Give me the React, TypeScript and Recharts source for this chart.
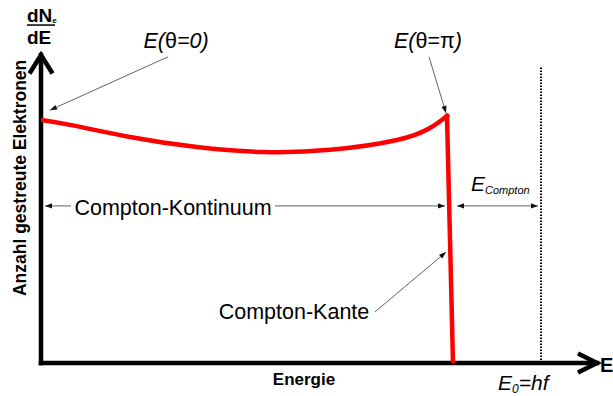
import { LineChart, Line, XAxis, YAxis, ReferenceLine, ReferenceDot } from 'recharts'

// Compton spectrum, energy in units of E0 = hf, counts in arbitrary units
const continuum = [
  { x: 0, y: 0.789 },
  { x: 0.058, y: 0.773 },
  { x: 0.178, y: 0.734 },
  { x: 0.312, y: 0.701 },
  { x: 0.444, y: 0.685 },
  { x: 0.578, y: 0.692 },
  { x: 0.712, y: 0.724 },
  { x: 0.778, y: 0.763 },
  { x: 0.812, y: 0.802 },
]
const edge = [
  { x: 0.812, y: 0.802 },
  { x: 0.824, y: 0 },
]
const E0 = 1.0
const X_MAX = 1.112
const Y_MAX = 1.0

const FONT = '"Liberation Sans", Arial, Helvetica, sans-serif'
const RED = '#ff0000'
const THIN = '#3a3a3a'

function head(x: number, y: number, ang: number) {
  const l = 7, w = 2.6
  const bx = x - l * Math.cos(ang), by = y - l * Math.sin(ang)
  return `${x},${y} ${bx - w * Math.sin(ang)},${by + w * Math.cos(ang)} ${bx + w * Math.sin(ang)},${by - w * Math.cos(ang)}`
}

const arrow = (both = false) => (p: any) => {
  const { x1, y1, x2, y2 } = p
  const a = Math.atan2(y2 - y1, x2 - x1)
  return (
    <g>
      <line x1={x1} y1={y1} x2={x2} y2={y2} stroke={THIN} strokeWidth={0.8} />
      <polygon points={head(x2, y2, a)} fill="#111" />
      {both && <polygon points={head(x1, y1, a + Math.PI)} fill="#111" />}
    </g>
  )
}

// open chevron at the end of an axis
const chevron = (half: number) => (p: any) => {
  const { x1, y1, x2, y2 } = p
  const a = Math.atan2(y2 - y1, x2 - x1)
  const px = -Math.sin(a) * half, py = Math.cos(a) * half
  return (
    <polyline
      points={`${x1 + px},${y1 + py} ${x2},${y2} ${x1 - px},${y1 - py}`}
      fill="none" stroke="#000" strokeWidth={4.5} strokeLinejoin="miter"
    />
  )
}

const label = (content: any, opts: any = {}) => (p: any) => (
  <text x={p.cx} y={p.cy} fontFamily={FONT} fill="#000" textAnchor="middle" {...opts}>
    {content}
  </text>
)

const fraction = (p: any) => (
  <g fontFamily={FONT} fontWeight="bold" fill="#000">
    <text x={p.cx} y={p.cy} fontSize={19}>
      dN<tspan fontSize={8} dy={1}>e</tspan>
    </text>
    <line x1={p.cx} y1={p.cy + 3} x2={p.cx + 28} y2={p.cy + 3} stroke="#000" strokeWidth={1.5} />
    <text x={p.cx} y={p.cy + 22} fontSize={19}>dE</text>
  </g>
)

export default function App() {
  return (
    <div style={{ position: 'absolute', left: 0, top: 0, background: '#fff' }}>
      <LineChart width={613} height={396} margin={{ top: 55, right: 16, bottom: 33, left: 41 }}>
        <XAxis type="number" dataKey="x" domain={[0, X_MAX]} allowDataOverflow hide />
        <YAxis type="number" domain={[0, Y_MAX]} allowDataOverflow hide />

        {/* axes with open arrow heads */}
        <ReferenceLine ifOverflow="visible" segment={[{ x: 0, y: 0 }, { x: 0, y: Y_MAX }]}
          stroke="#000" strokeWidth={4.5} strokeLinecap="square" />
        <ReferenceLine ifOverflow="visible" segment={[{ x: 0, y: 0 }, { x: X_MAX, y: 0 }]}
          stroke="#000" strokeWidth={4.5} strokeLinecap="square" />
        <ReferenceLine ifOverflow="visible" segment={[{ x: 0, y: 0.94 }, { x: 0, y: Y_MAX }]} shape={chevron(11.5)} />
        <ReferenceLine ifOverflow="visible" segment={[{ x: 1.074, y: 0 }, { x: X_MAX, y: 0 }]} shape={chevron(9.5)} />

        <ReferenceLine
          ifOverflow="visible" segment={[{ x: E0, y: 0 }, { x: E0, y: 0.961 }]}
          stroke="#000" strokeWidth={2} strokeDasharray="1.5 1.5"
        />

        <Line data={continuum} dataKey="y" type="natural" stroke={RED} strokeWidth={4.5}
          strokeLinecap="square" dot={false} isAnimationActive={false} />
        <Line data={edge} dataKey="y" type="linear" stroke={RED} strokeWidth={4.5}
          strokeLinecap="square" dot={false} isAnimationActive={false} />

        {/* annotation arrows */}
        <ReferenceLine ifOverflow="visible" segment={[{ x: 0.254, y: 0.994 }, { x: 0.018, y: 0.821 }]} shape={arrow()} />
        <ReferenceLine ifOverflow="visible" segment={[{ x: 0.776, y: 0.994 }, { x: 0.81, y: 0.812 }]} shape={arrow()} />
        <ReferenceLine ifOverflow="visible" segment={[{ x: 0.06, y: 0.51 }, { x: 0.008, y: 0.51 }]} shape={arrow()} />
        <ReferenceLine ifOverflow="visible" segment={[{ x: 0.468, y: 0.51 }, { x: 0.808, y: 0.51 }]} shape={arrow()} />
        <ReferenceLine ifOverflow="visible" segment={[{ x: 0.832, y: 0.51 }, { x: 0.994, y: 0.51 }]} shape={arrow(true)} />
        <ReferenceLine ifOverflow="visible" segment={[{ x: 0.668, y: 0.166 }, { x: 0.81, y: 0.36 }]} shape={arrow()} />

        {/* texts */}
        <ReferenceDot ifOverflow="visible" x={0.27} y={1.023} r={0}
          shape={label(<>E(<tspan fontStyle="normal">θ</tspan>=0)</>, { fontSize: 21.5, fontStyle: 'italic' })} />
        <ReferenceDot ifOverflow="visible" x={0.774} y={1.023} r={0}
          shape={label(<>E(<tspan fontStyle="normal">θ=π</tspan>)</>, { fontSize: 21.5, fontStyle: 'italic' })} />
        <ReferenceDot ifOverflow="visible" x={0.264} y={0.481} r={0}
          shape={label('Compton-Kontinuum', { fontSize: 21.5 })} />
        <ReferenceDot ifOverflow="visible" x={0.506} y={0.143} r={0}
          shape={label('Compton-Kante', { fontSize: 21.5 })} />
        <ReferenceDot ifOverflow="visible" x={0.86} y={0.558} r={0}
          shape={label(<>E<tspan fontSize={11} dy={3}>Compton</tspan></>, { fontSize: 21, fontStyle: 'italic', textAnchor: 'start' })} />
        <ReferenceDot ifOverflow="visible" x={0.914} y={-0.088} r={0}
          shape={label(<>E<tspan fontSize={12} dy={3}>0</tspan><tspan dy={-3}>=hf</tspan></>, { fontSize: 21, fontStyle: 'italic', textAnchor: 'start' })} />
        <ReferenceDot ifOverflow="visible" x={0.526} y={-0.071} r={0}
          shape={label('Energie', { fontSize: 17, fontWeight: 'bold' })} />
        <ReferenceDot ifOverflow="visible" x={1.118} y={-0.029} r={0}
          shape={label('E', { fontSize: 20, fontWeight: 'bold', textAnchor: 'start' })} />
        <ReferenceDot ifOverflow="visible" x={-0.042} y={0.601} r={0}
          shape={(p: any) => (
            <text x={p.cx} y={p.cy} transform={`rotate(-90 ${p.cx} ${p.cy})`} textAnchor="middle"
              dominantBaseline="central" fontFamily={FONT} fontSize={17.5} fontWeight="bold" fill="#000">
              Anzahl gestreute Elektronen
            </text>
          )} />
        <ReferenceDot ifOverflow="visible" x={-0.028} y={1.107} r={0} shape={fraction} />
      </LineChart>
    </div>
  )
}
